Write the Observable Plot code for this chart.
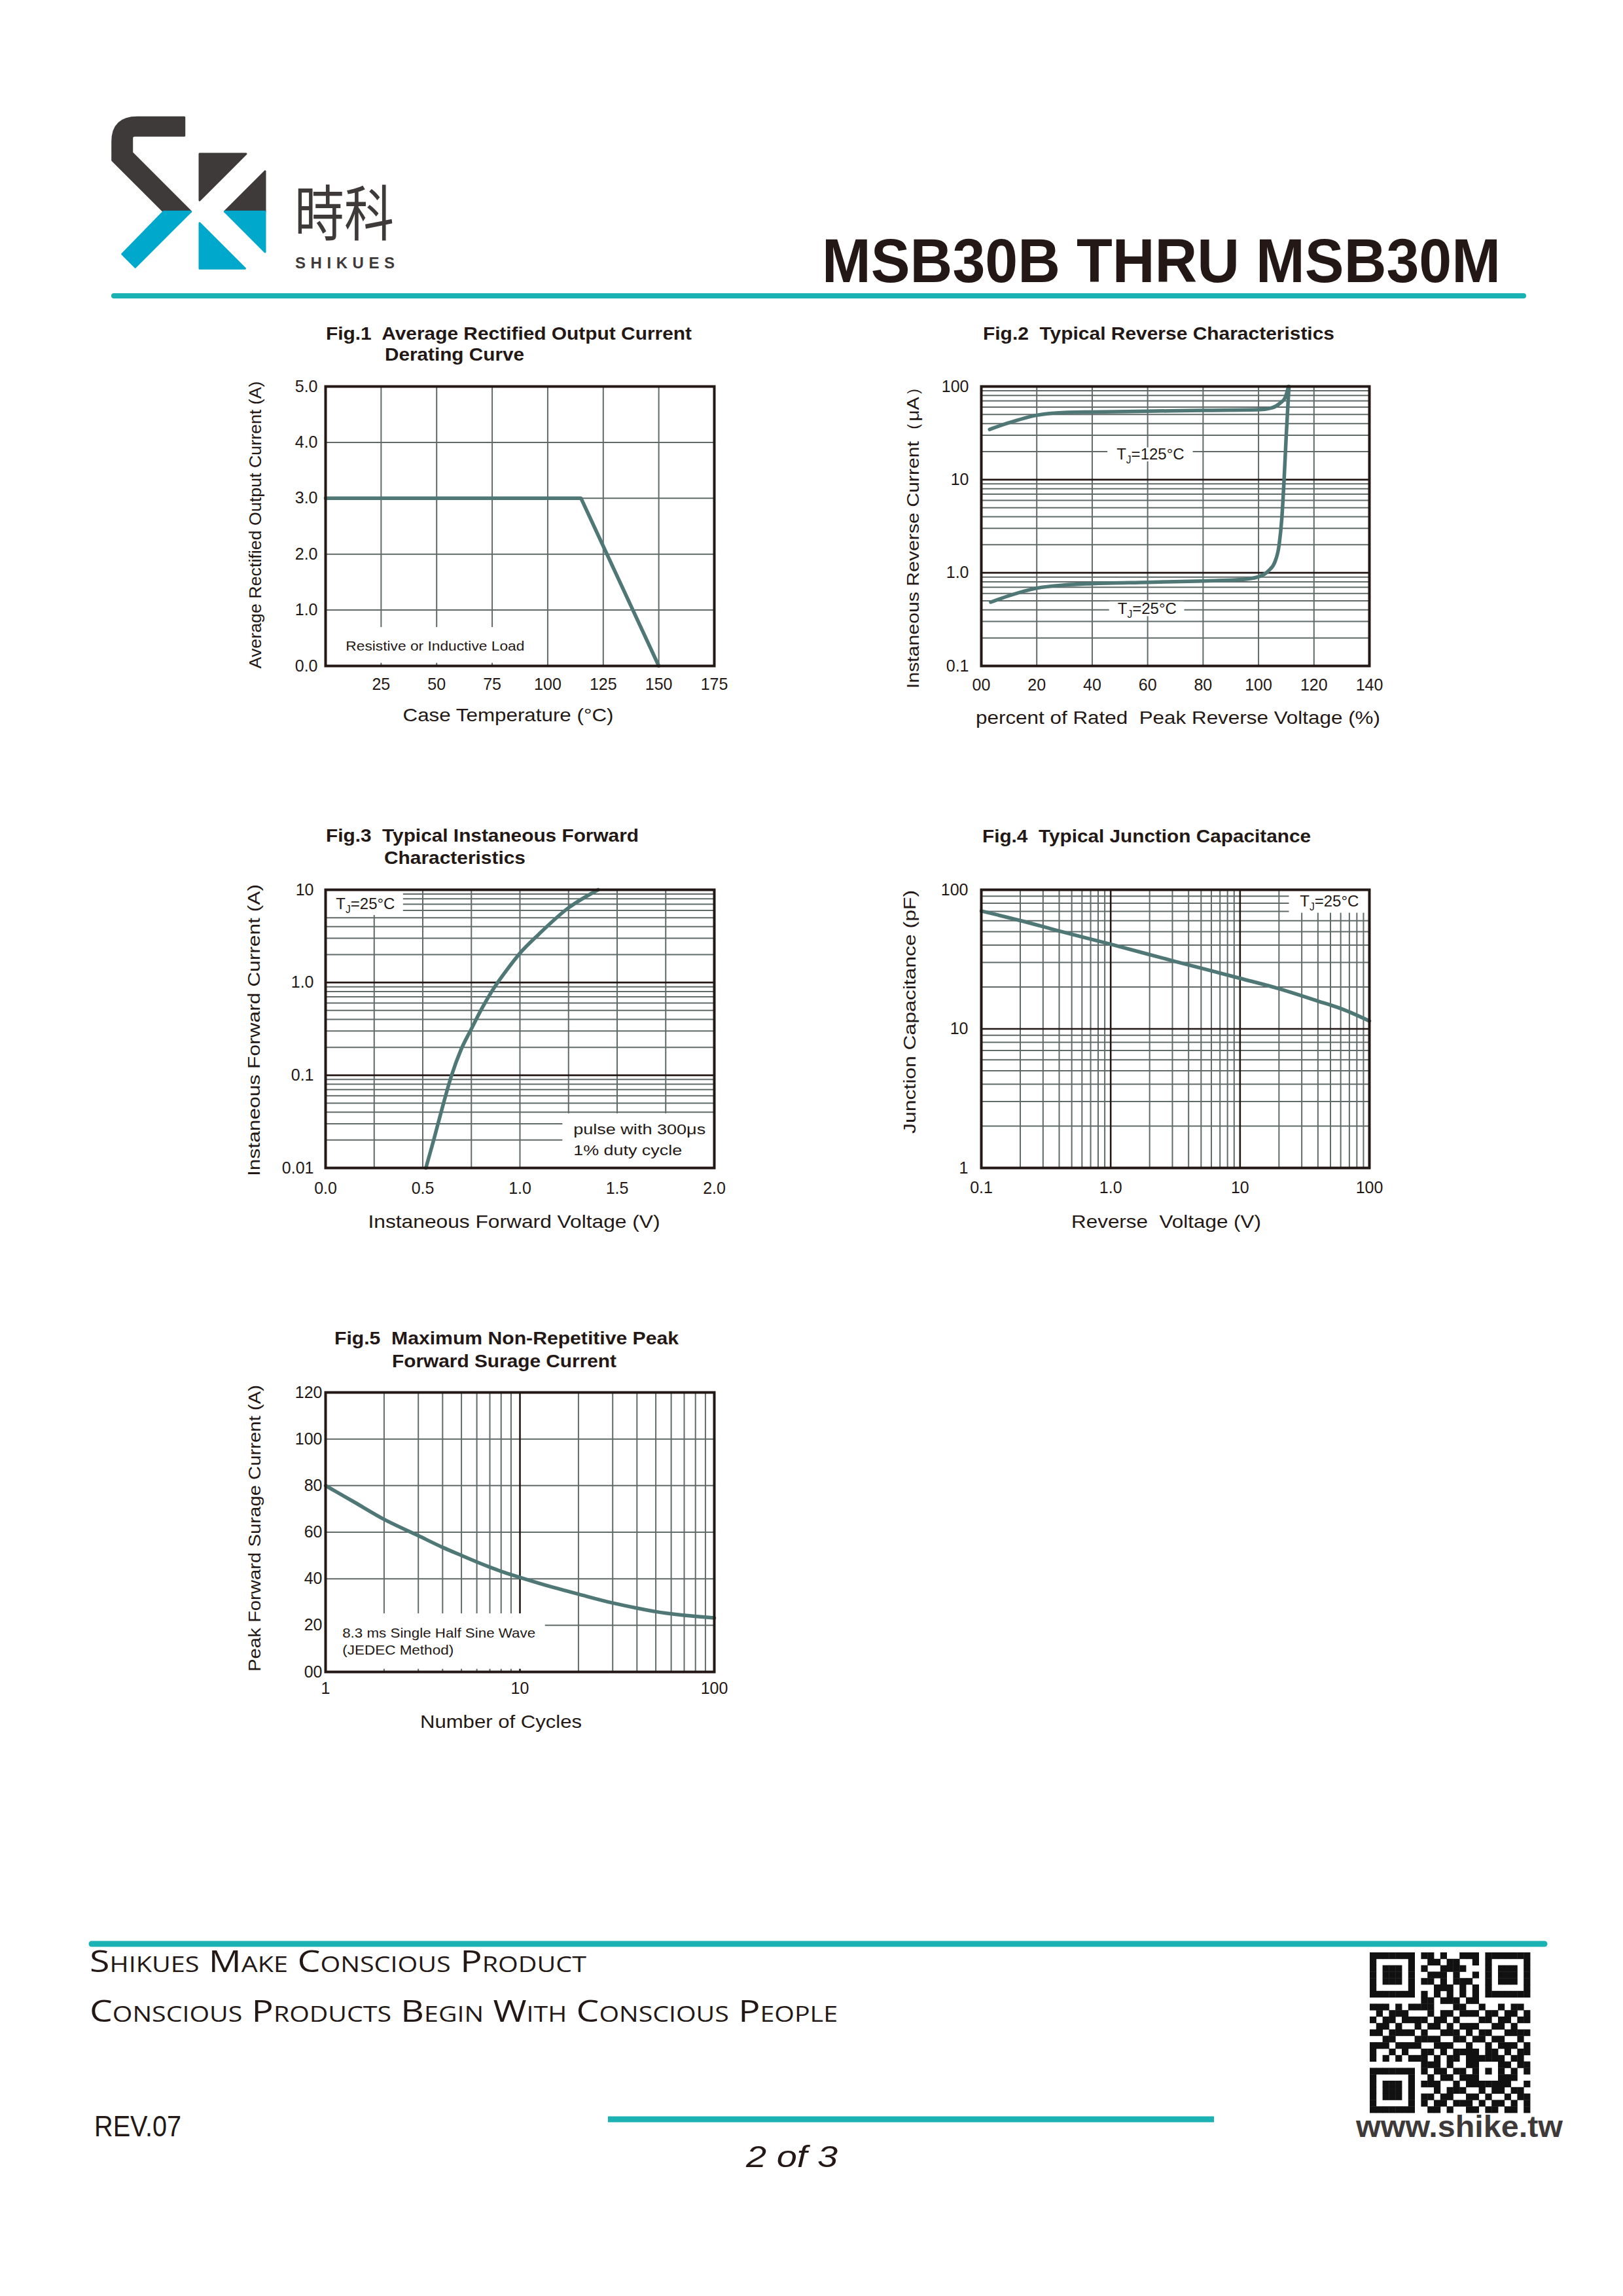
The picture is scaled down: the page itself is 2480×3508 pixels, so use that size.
<!DOCTYPE html>
<html>
<head>
<meta charset="utf-8">
<script src="https://cdn.jsdelivr.net/npm/d3@7"></script>
<script src="https://cdn.jsdelivr.net/npm/@observablehq/plot@0.6"></script>
<style>
  body { margin: 0; background: #fff; }
  #page { position: relative; width: 2480px; height: 3508px; background: #fff; overflow: hidden; }
  .chart { position: absolute; }
  #deco text { white-space: pre; }
</style>
</head>
<body>
<div id="page">
<svg id="deco" width="2480" height="3508" style="position:absolute;left:0;top:0" font-family="'Liberation Sans', Arial, sans-serif">
  <!-- logo mark -->
  <g stroke-linejoin="round" stroke-width="3">
    <path d="M281.7,179.3 L210,179.3 Q171.7,179.3 171.7,216.7 L171.7,245 L250,323.3 L291.7,323.3 L201.7,233.3 L201.7,211 Q201.7,207.3 205.5,207.3 L281.7,207.3 Z" fill="#3e3a39" stroke="#3e3a39"/>
    <path d="M250,323.3 L291.7,323.3 L206.7,408.3 L186.7,388.3 Z" fill="#00a8cb" stroke="#00a8cb"/>
    <path d="M305,235 L376,235 L305,306 Z" fill="#3e3a39" stroke="#3e3a39"/>
    <path d="M405,261.7 L405,323.3 L343.4,323.3 Z" fill="#3e3a39" stroke="#3e3a39"/>
    <path d="M343.4,323.3 L405,323.3 L405,385 Z" fill="#00a8cb" stroke="#00a8cb"/>
    <path d="M305,340.7 L374.5,410.2 L305,410.2 Z" fill="#00a8cb" stroke="#00a8cb"/>
  </g>
  <text x="450" y="360" font-family="'Noto Sans CJK TC', 'Noto Sans CJK SC', sans-serif" font-size="92" fill="#3e3a39" textLength="152" lengthAdjust="spacingAndGlyphs">時科</text>
  <text x="451" y="410" font-size="24" font-weight="bold" fill="#3e3a39" textLength="152" lengthAdjust="spacing">SHIKUES</text>
  <text x="1256" y="431" font-size="95" font-weight="bold" fill="#231815" textLength="1037" lengthAdjust="spacingAndGlyphs">MSB30B THRU MSB30M</text>
  <line x1="174" x2="2328" y1="452" y2="452" stroke="#1ab2b3" stroke-width="8" stroke-linecap="round"/>

  <!-- figure titles -->
  <g font-size="28" font-weight="bold" fill="#231815">
    <text x="498" y="519" textLength="559" lengthAdjust="spacingAndGlyphs">Fig.1  Average Rectified Output Current</text>
    <text x="588" y="551" textLength="213" lengthAdjust="spacingAndGlyphs">Derating Curve</text>
    <text x="1502" y="519" textLength="537" lengthAdjust="spacingAndGlyphs">Fig.2  Typical Reverse Characteristics</text>
    <text x="498" y="1286" textLength="478" lengthAdjust="spacingAndGlyphs">Fig.3  Typical Instaneous Forward</text>
    <text x="587" y="1320" textLength="216" lengthAdjust="spacingAndGlyphs">Characteristics</text>
    <text x="1501" y="1287" textLength="502" lengthAdjust="spacingAndGlyphs">Fig.4  Typical Junction Capacitance</text>
    <text x="511" y="2054" textLength="526" lengthAdjust="spacingAndGlyphs">Fig.5  Maximum Non-Repetitive Peak</text>
    <text x="599" y="2089" textLength="343" lengthAdjust="spacingAndGlyphs">Forward Surage Current</text>
  </g>

  <!-- footer -->
  <line x1="140" x2="2360" y1="2970" y2="2970" stroke="#1ab2b3" stroke-width="9" stroke-linecap="round"/>
  <text x="137" y="3013" font-family="'Open Sans', 'DejaVu Sans', sans-serif" font-weight="400" font-size="45" fill="#231815" style="font-variant: small-caps" textLength="759" lengthAdjust="spacingAndGlyphs">Shikues Make Conscious Product</text>
  <text x="137" y="3089" font-family="'Open Sans', 'DejaVu Sans', sans-serif" font-weight="400" font-size="45" fill="#231815" style="font-variant: small-caps" textLength="1143" lengthAdjust="spacingAndGlyphs">Conscious Products Begin With Conscious People</text>
  <text x="144" y="3264" font-size="44" fill="#231815" textLength="133" lengthAdjust="spacingAndGlyphs">REV.07</text>
  <line x1="929" x2="1855" y1="3238" y2="3238" stroke="#1ab2b3" stroke-width="9"/>
  <text x="1140" y="3311" font-size="46" font-style="italic" fill="#231815" textLength="140" lengthAdjust="spacingAndGlyphs">2 of 3</text>
  <text x="2072" y="3265" font-size="46" font-weight="bold" fill="#3e3a39" textLength="316" lengthAdjust="spacingAndGlyphs">www.shike.tw</text>
  <g id="qr"></g>
</svg>
</div>
<script>
// ---------------- data ----------------
// Fig.1 Average Rectified Output Current Derating Curve
const fig1XTicks = [25, 50, 75, 100, 125, 150, 175];
const fig1YTicks = [0, 1, 2, 3, 4, 5];
const fig1XGrid = [25, 50, 75, 100, 125, 150];
const fig1YGrid = [1, 2, 3, 4];
const fig1Temp = [0, 115, 150];
const fig1Current = [3, 3, 0];

// Fig.2 Typical Reverse Characteristics
const fig2XTicks = [0, 20, 40, 60, 80, 100, 120, 140];
const fig2YTicks = [0.1, 1, 10, 100];
const fig2XGrid = [20, 40, 60, 80, 100, 120];
const fig2YMinor = [0.2, 0.3, 0.4, 0.5, 0.6, 0.7, 0.8, 0.9, 2, 3, 4, 5, 6, 7, 8, 9, 20, 30, 40, 50, 60, 70, 80, 90];
const fig2YMajor = [1, 10];
const fig2V125 = [3, 9.4, 20, 30, 40, 60, 80, 100, 104.8, 107.8, 109.6, 110.8];
const fig2I125 = [34.6, 40.3, 49.2, 52.6, 53.3, 54.3, 55.4, 56.2, 58.9, 66.3, 75.7, 100];
const fig2V25 = [3.4, 9.4, 20, 30, 40, 60, 80, 93.9, 99.9, 103.6, 106, 107.4, 108.4, 109.2, 110, 110.8, 111];
const fig2I25 = [0.484, 0.56, 0.684, 0.74, 0.766, 0.791, 0.817, 0.845, 0.903, 1.05, 1.33, 1.97, 3.83, 9.7, 29.9, 80.9, 100];

// Fig.3 Typical Instaneous Forward Characteristics
const fig3XTicks = [0, 0.5, 1, 1.5, 2];
const fig3YTicks = [0.01, 0.1, 1, 10];
const fig3XGrid = [0.25, 0.5, 0.75, 1, 1.25, 1.5, 1.75];
const fig3YMinor = [0.02, 0.03, 0.04, 0.05, 0.06, 0.07, 0.08, 0.09, 0.2, 0.3, 0.4, 0.5, 0.6, 0.7, 0.8, 0.9, 2, 3, 4, 5, 6, 7, 8, 9];
const fig3YMajor = [0.1, 1];
const fig3V = [0.516, 0.557, 0.598, 0.648, 0.697, 0.749, 0.803, 0.869, 0.934, 1.0, 1.098, 1.246, 1.402];
const fig3I = [0.01, 0.0203, 0.0427, 0.0993, 0.189, 0.313, 0.52, 0.89, 1.38, 2.07, 3.33, 6.3, 10];

// Fig.4 Typical Junction Capacitance
const fig4XTicks = [0.1, 1, 10, 100];
const fig4YTicks = [1, 10, 100];
const fig4XMinor = [0.2, 0.3, 0.4, 0.5, 0.6, 0.7, 0.8, 0.9, 2, 3, 4, 5, 6, 7, 8, 9, 20, 30, 40, 50, 60, 70, 80, 90];
const fig4XMajor = [1, 10];
const fig4YMinor = [2, 3, 4, 5, 6, 7, 8, 9, 20, 30, 40, 50, 60, 70, 80, 90];
const fig4YMajor = [10];
const fig4V = [0.1, 0.2, 0.389, 1, 3.13, 10, 19.8, 40.4, 61.4, 100];
const fig4C = [70.4, 60.1, 50.9, 40.6, 30.6, 23.1, 19.5, 15.8, 13.9, 11.4];

// Fig.5 Maximum Non-Repetitive Peak Forward Surage Current
const fig5XTicks = [1, 10, 100];
const fig5YTicks = [0, 20, 40, 60, 80, 100, 120];
const fig5XMinor = [2, 3, 4, 5, 6, 7, 8, 9, 20, 30, 40, 50, 60, 70, 80, 90];
const fig5XMajor = [10];
const fig5YGrid = [20, 40, 60, 80, 100];
const fig5N = [1, 1.4, 2, 3, 4, 5, 6, 7, 8, 9, 10, 15, 20, 30, 40, 50, 70, 100];
const fig5I = [80, 73, 65.5, 58.5, 53.5, 50, 47.2, 45, 43.2, 41.8, 40.6, 36.2, 33.4, 29.6, 27.4, 25.9, 24.3, 23.2];

// QR code modules (decorative)
const qrRows = [
  "1111111011010011101111111","1000001001101100101000001","1011101010011110001011101",
  "1011101001110100101011101","1011101011010111001011101","1000001000111010101000001",
  "1111111010101010101111111","0000000011011101100000000","1110101111000110010010110",
  "0101110001011011101101101","1011011110110100011011011","0110100101101011100110100",
  "1101111010011101011001111","0011000111100110110110010","1110110100111001001011101",
  "1001011011010111101101011","1010101110101101111110110","0000000011101001100011011",
  "1111111010110110101010101","1000001001011011100011100","1011101011100101111111001",
  "1011101000101110010110110","1011101011011001101001011","1000001010110111010110101",
  "1111111001101001101101101"
];

// ---------------- styles ----------------
const FONT = "'Liberation Sans', Arial, Helvetica, sans-serif";
const ink = "#231815";
const gridC = "#5f6a69";
const curveC = "#4f7775";

function fitTexts(svg, fits) {
  if (!fits) return;
  svg.querySelectorAll("text").forEach(t => {
    const w = fits[t.textContent];
    if (w) { t.setAttribute("textLength", w); t.setAttribute("lengthAdjust", "spacingAndGlyphs"); }
  });
}
function subJ(svg) {
  const ns = "http://www.w3.org/2000/svg";
  svg.querySelectorAll("text").forEach(t => {
    const s = t.textContent;
    if (s.startsWith("TJ=")) {
      const fs = parseFloat(t.getAttribute("font-size") || t.parentNode.getAttribute("font-size") || 24);
      t.textContent = "";
      const a = document.createElementNS(ns, "tspan"); a.textContent = "T";
      const b = document.createElementNS(ns, "tspan"); b.textContent = "J";
      b.setAttribute("font-size", fs * 0.65); b.setAttribute("dy", fs * 0.25);
      const c = document.createElementNS(ns, "tspan"); c.textContent = s.slice(2);
      c.setAttribute("dy", -fs * 0.25);
      t.append(a, b, c);
    }
  });
}

function makeChart(o) {
  const ml = 160, mr = 60, mt = 30, mb = 125;
  const W = o.fw + ml + mr, H = o.fh + mt + mb;
  const marks = [];
  if (o.xMinor) marks.push(Plot.ruleX(o.xMinor, {stroke: gridC, strokeWidth: 2}));
  if (o.yMinor) marks.push(Plot.ruleY(o.yMinor, {stroke: gridC, strokeWidth: 2}));
  if (o.xMajor) marks.push(Plot.ruleX(o.xMajor, {stroke: ink, strokeWidth: 2.6}));
  if (o.yMajor) marks.push(Plot.ruleY(o.yMajor, {stroke: ink, strokeWidth: 2.6}));
  marks.push(Plot.rect(o.boxes, {x1: "x1", x2: "x2", y1: "y1", y2: "y2", fill: "white"}));
  for (const n of o.notes) {
    marks.push(Plot.text([n], {x: "x", y: "y", text: "t", textAnchor: n.anchor || "middle", lineAnchor: "middle", fontSize: n.size || 24, fill: ink}));
  }
  for (const c of o.curves) {
    marks.push(Plot.line(d3.zip(c.xs, c.ys), {x: d => d[0], y: d => d[1], stroke: curveC, strokeWidth: 5.5, curve: c.curve || "monotone-x"}));
  }
  marks.push(Plot.frame({stroke: ink, strokeWidth: 4}));
  marks.push(Plot.axisX(o.xTicks, {tickSize: 0, tickPadding: o.xPad, tickFormat: o.xFmt, fontSize: 25, fill: ink}));
  marks.push(Plot.axisY(o.yTicks, {tickSize: 0, tickPadding: o.yPad, tickFormat: o.yFmt, fontSize: 25, fill: ink}));
  marks.push(Plot.text([o.xLabel], {text: d => d, frameAnchor: "bottom", textAnchor: "middle", lineAnchor: "middle", dx: o.xdx, dy: o.xdy, fontSize: 28, fill: ink}));
  marks.push(Plot.text([o.yLabel], {text: d => d, frameAnchor: "left", textAnchor: "middle", lineAnchor: "middle", rotate: -90, dx: o.ydx, dy: o.ydy, fontSize: 26, fill: ink}));

  const svg = Plot.plot({
    width: W, height: H,
    marginLeft: ml, marginRight: mr, marginTop: mt, marginBottom: mb,
    x: {type: o.xType, domain: o.xDomain, label: null},
    y: {type: o.yType, domain: o.yDomain, label: null},
    style: {fontFamily: FONT, color: ink, background: "transparent", overflow: "visible"},
    marks
  });
  fitTexts(svg, o.fits);
  subJ(svg);
  const div = document.createElement("div");
  div.className = "chart";
  div.style.left = (o.fx - ml) + "px";
  div.style.top = (o.fy - mt) + "px";
  div.appendChild(svg);
  document.getElementById("page").appendChild(div);
}

const fmtDec = d => (d === 1 ? "1.0" : String(d));

makeChart({
  fx: 497, fy: 590, fw: 594, fh: 427,
  xType: "linear", xDomain: [0, 175], yType: "linear", yDomain: [0, 5],
  xMinor: fig1XGrid, yMinor: fig1YGrid,
  boxes: [{x1: 8, x2: 90, y1: 0.05, y2: 0.69}],
  notes: [{x: 49.3, y: 0.35, t: "Resistive or Inductive Load", size: 21}],
  curves: [{xs: fig1Temp, ys: fig1Current, curve: "linear"}],
  xTicks: fig1XTicks, xFmt: d => String(d), xPad: 19,
  yTicks: fig1YTicks, yFmt: d => d.toFixed(1), yPad: 12,
  xLabel: "Case Temperature (°C)", xdx: -18, xdy: 76,
  yLabel: "Average Rectified Output Current (A)", ydx: -107, ydy: -2,
  fits: {"Case Temperature (°C)": 322, "Average Rectified Output Current (A)": 439, "Resistive or Inductive Load": 273}
});

makeChart({
  fx: 1499, fy: 590, fw: 593, fh: 427,
  xType: "linear", xDomain: [0, 140], yType: "log", yDomain: [0.1, 100],
  xMinor: fig2XGrid, yMinor: fig2YMinor, yMajor: fig2YMajor,
  boxes: [{x1: 45.6, x2: 76.4, y1: 15.6, y2: 22}, {x1: 46.2, x2: 73.3, y1: 0.34, y2: 0.49}],
  notes: [{x: 61, y: 18.6, t: "TJ=125°C", size: 24}, {x: 59.8, y: 0.41, t: "TJ=25°C", size: 24}],
  curves: [{xs: fig2V125, ys: fig2I125}, {xs: fig2V25, ys: fig2I25}],
  xTicks: fig2XTicks, xFmt: d => (d === 0 ? "00" : String(d)), xPad: 20,
  yTicks: fig2YTicks, yFmt: fmtDec, yPad: 19,
  xLabel: "percent of Rated\u00a0 Peak Reverse Voltage (%)", xdx: 4, xdy: 80,
  yLabel: "Instaneous Reverse Current（μA）", ydx: -104, ydy: 10,
  fits: {"percent of Rated\u00a0 Peak Reverse Voltage (%)": 618, "Instaneous Reverse Current（μA）": 476}
});

makeChart({
  fx: 497, fy: 1359, fw: 594, fh: 425,
  xType: "linear", xDomain: [0, 2], yType: "log", yDomain: [0.01, 10],
  xMinor: fig3XGrid, yMinor: fig3YMinor, yMajor: fig3YMajor,
  boxes: [{x1: 0, x2: 0.40, y1: 5.3, y2: 10}, {x1: 1.22, x2: 2, y1: 0.01, y2: 0.0385}],
  notes: [
    {x: 0.205, y: 7.0, t: "TJ=25°C", size: 24},
    {x: 1.275, y: 0.0258, t: "pulse with 300μs", anchor: "start", size: 22},
    {x: 1.275, y: 0.0155, t: "1% duty cycle", anchor: "start", size: 22}
  ],
  curves: [{xs: fig3V, ys: fig3I}],
  xTicks: fig3XTicks, xFmt: d => d.toFixed(1), xPad: 22,
  yTicks: fig3YTicks, yFmt: fmtDec, yPad: 18,
  xLabel: "Instaneous Forward Voltage (V)", xdx: -9, xdy: 83,
  yLabel: "Instaneous Forward Current (A)", ydx: -109, ydy: 2,
  fits: {"Instaneous Forward Voltage (V)": 446, "Instaneous Forward Current (A)": 446, "pulse with 300μs": 202, "1% duty cycle": 166}
});

makeChart({
  fx: 1499, fy: 1359, fw: 593, fh: 425,
  xType: "log", xDomain: [0.1, 100], yType: "log", yDomain: [1, 100],
  xMinor: fig4XMinor, xMajor: fig4XMajor, yMinor: fig4YMinor, yMajor: fig4YMajor,
  boxes: [{x1: 24, x2: 100, y1: 68, y2: 100}],
  notes: [{x: 49, y: 82.4, t: "TJ=25°C", size: 24}],
  curves: [{xs: fig4V, ys: fig4C}],
  xTicks: fig4XTicks, xFmt: fmtDec, xPad: 21,
  yTicks: fig4YTicks, yFmt: d => String(d), yPad: 20,
  xLabel: "Reverse\u00a0 Voltage (V)", xdx: -14, xdy: 83,
  yLabel: "Junction Capacitance (pF)", ydx: -109, ydy: -26,
  fits: {"Reverse\u00a0 Voltage (V)": 290, "Junction Capacitance (pF)": 372}
});

makeChart({
  fx: 497, fy: 2127, fw: 594, fh: 427,
  xType: "log", xDomain: [1, 100], yType: "linear", yDomain: [0, 120],
  xMinor: fig5XMinor, xMajor: fig5XMajor, yMinor: fig5YGrid,
  boxes: [{x1: 1, x2: 13.5, y1: 1.2, y2: 25}],
  notes: [
    {x: 1.22, y: 16.6, t: "8.3 ms Single Half Sine Wave", anchor: "start", size: 21},
    {x: 1.22, y: 9.3, t: "(JEDEC Method)", anchor: "start", size: 21}
  ],
  curves: [{xs: fig5N, ys: fig5I}],
  xTicks: fig5XTicks, xFmt: d => String(d), xPad: 16,
  yTicks: fig5YTicks, yFmt: d => (d === 0 ? "00" : String(d)), yPad: 5,
  xLabel: "Number of Cycles", xdx: -29, xdy: 77,
  yLabel: "Peak Forward Surage Current (A)", ydx: -108, ydy: -6,
  fits: {"Number of Cycles": 247, "Peak Forward Surage Current (A)": 438, "8.3 ms Single Half Sine Wave": 295, "(JEDEC Method)": 170}
});

// QR code (decorative)
(function drawQR() {
  const n = 25;
  const m = qrRows.map(r => r.split("").map(Number));
  const finder = (r0, c0) => {
    for (let r = -1; r <= 7; r++) for (let c = -1; c <= 7; c++) {
      const rr = r0 + r, cc = c0 + c;
      if (rr < 0 || cc < 0 || rr >= n || cc >= n) continue;
      let v = 0;
      if (r >= 0 && r <= 6 && c >= 0 && c <= 6)
        v = (r === 0 || r === 6 || c === 0 || c === 6 || (r >= 2 && r <= 4 && c >= 2 && c <= 4)) ? 1 : 0;
      m[rr][cc] = v;
    }
  };
  finder(0, 0); finder(0, 18); finder(18, 0);
  for (let i = 8; i < 17; i++) { m[6][i] = i % 2 === 0 ? 1 : 0; m[i][6] = i % 2 === 0 ? 1 : 0; }
  for (let r = -2; r <= 2; r++) for (let c = -2; c <= 2; c++)
    m[18 + r][18 + c] = Math.max(Math.abs(r), Math.abs(c)) !== 1 ? 1 : 0;
  const x0 = 2093, y0 = 2983, s = 9.8;
  const cells = [];
  m.forEach((row, r) => row.forEach((v, c) => { if (v) cells.push([r, c]); }));
  d3.select("#qr").selectAll("rect").data(cells).join("rect")
    .attr("x", d => x0 + d[1] * s).attr("y", d => y0 + d[0] * s)
    .attr("width", s + 0.4).attr("height", s + 0.4).attr("fill", "#111");
})();
</script>
</body>
</html>
